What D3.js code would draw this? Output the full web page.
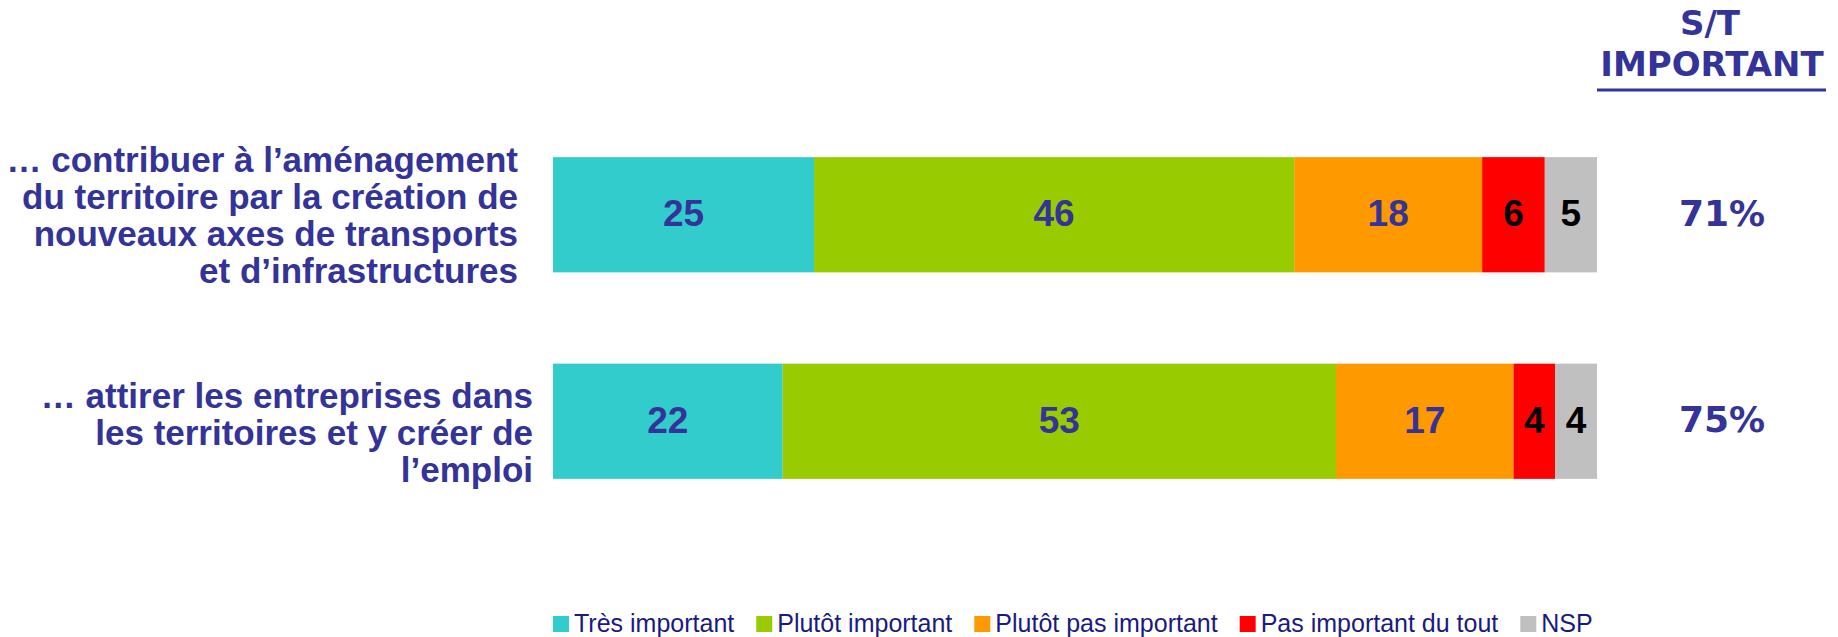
<!DOCTYPE html>
<html>
<head>
<meta charset="utf-8">
<script src="https://cdn.jsdelivr.net/npm/d3@7"></script>
<style>
    html, body { margin: 0; padding: 0; background: #fff; }
    svg { display: block; }
</style>
</head>
<body>
<div id="chart"></div>
<script>
const width = 1838;
const height = 637;

// data
const categories = ["contribuer", "attirer"];
const categoryLines = [
    ["… contribuer à l’aménagement", "du territoire par la création de", "nouveaux axes de transports", "et d’infrastructures"],
    ["… attirer les entreprises dans", "les territoires et y créer de", "l’emploi"]
];
const seriesNames = ["Très important", "Plutôt important", "Plutôt pas important", "Pas important du tout", "NSP"];
const seriesValues = [
    [25, 46, 18, 6, 5],
    [22, 53, 17, 4, 4]
];
const totalImportant = ["71%", "75%"];
const headerLines = ["S/T", "IMPORTANT"];

const colors = ["#33CCCC", "#99CC00", "#FF9900", "#FF0000", "#C0C0C0"];
const labelColors = ["#333399", "#333399", "#333399", "#000000", "#000000"];
const navy = "#333399";

const svg = d3.select("#chart").append("svg").attr("width", width).attr("height", height);

const x = d3.scaleLinear().domain([0, 100]).range([553, 1597]);
const y = d3.scaleBand().domain(categories).range([111.5, 524.5])
    .paddingInner(0.442).paddingOuter(0.221);

// stack the rows
const rows = categories.map((c, i) => {
    let acc = 0;
    return seriesValues[i].map((v, j) => {
        const seg = { cat: c, series: j, value: v, x0: acc, x1: acc + v };
        acc += v;
        return seg;
    });
});

const bars = svg.append("g");
rows.forEach(row => {
    const g = bars.append("g");
    g.selectAll("rect")
        .data(row)
        .enter()
        .append("rect")
        .attr("x", d => x(d.x0))
        .attr("y", d => y(d.cat))
        .attr("width", d => x(d.x1) - x(d.x0))
        .attr("height", y.bandwidth())
        .attr("fill", d => colors[d.series]);

    g.selectAll("text")
        .data(row)
        .enter()
        .append("text")
        .attr("x", d => (x(d.x0) + x(d.x1)) / 2)
        .attr("y", d => y(d.cat) + y.bandwidth() / 2)
        .attr("dy", "0.31em")
        .attr("text-anchor", "middle")
        .attr("font-family", "'Liberation Sans', Arial, sans-serif")
        .attr("font-weight", "bold")
        .attr("font-size", 37)
        .attr("fill", d => labelColors[d.series])
        .text(d => d.value);
});

// category labels (right aligned, multi line)
const labelRight = [518, 533];
const labelShift = [4, 15];
categories.forEach((c, i) => {
    const lines = categoryLines[i];
    const lh = 37;
    const mid = y(c) + y.bandwidth() / 2 + labelShift[i];
    const t = svg.append("text")
        .attr("text-anchor", "end")
        .attr("font-family", "'Liberation Sans', Arial, sans-serif")
        .attr("font-weight", "bold")
        .attr("font-size", 35)
        .attr("fill", navy);
    lines.forEach((line, k) => {
        t.append("tspan")
            .attr("x", labelRight[i])
            .attr("y", mid + (k - (lines.length - 1) / 2) * lh + 9)
            .text(line);
    });
});

// S/T important column
const header = svg.append("g")
    .attr("font-family", "'DejaVu Sans', Verdana, sans-serif")
    .attr("font-weight", "bold")
    .attr("fill", navy)
    .attr("text-anchor", "middle");
header.append("text").attr("x", 1710).attr("y", 35).attr("font-size", 34).text(headerLines[0]);
header.append("text").attr("x", 1712).attr("y", 76).attr("font-size", 34).text(headerLines[1]);
svg.append("line")
    .attr("x1", 1597).attr("x2", 1826)
    .attr("y1", 90).attr("y2", 90)
    .attr("stroke", navy).attr("stroke-width", 3);

svg.append("g").selectAll("text")
    .data(categories)
    .enter()
    .append("text")
    .attr("x", 1722)
    .attr("y", d => y(d) + y.bandwidth() / 2)
    .attr("dy", "0.3em")
    .attr("text-anchor", "middle")
    .attr("font-family", "'DejaVu Sans', Verdana, sans-serif")
    .attr("font-weight", "bold")
    .attr("font-size", 36)
    .attr("fill", navy)
    .text((d, i) => totalImportant[i]);

// legend
const legend = svg.append("g");
let cursor = 553;
seriesNames.forEach((name, i) => {
    legend.append("rect")
        .attr("x", cursor).attr("y", 616)
        .attr("width", 16).attr("height", 16)
        .attr("fill", colors[i]);
    const t = legend.append("text")
        .attr("x", cursor + 21)
        .attr("y", 632)
        .attr("font-family", "'Liberation Sans', Arial, sans-serif")
        .attr("font-size", 25)
        .attr("fill", "#1a1a80")
        .text(name);
    cursor += 21 + t.node().getComputedTextLength() + 22;
});
</script>
</body>
</html>
